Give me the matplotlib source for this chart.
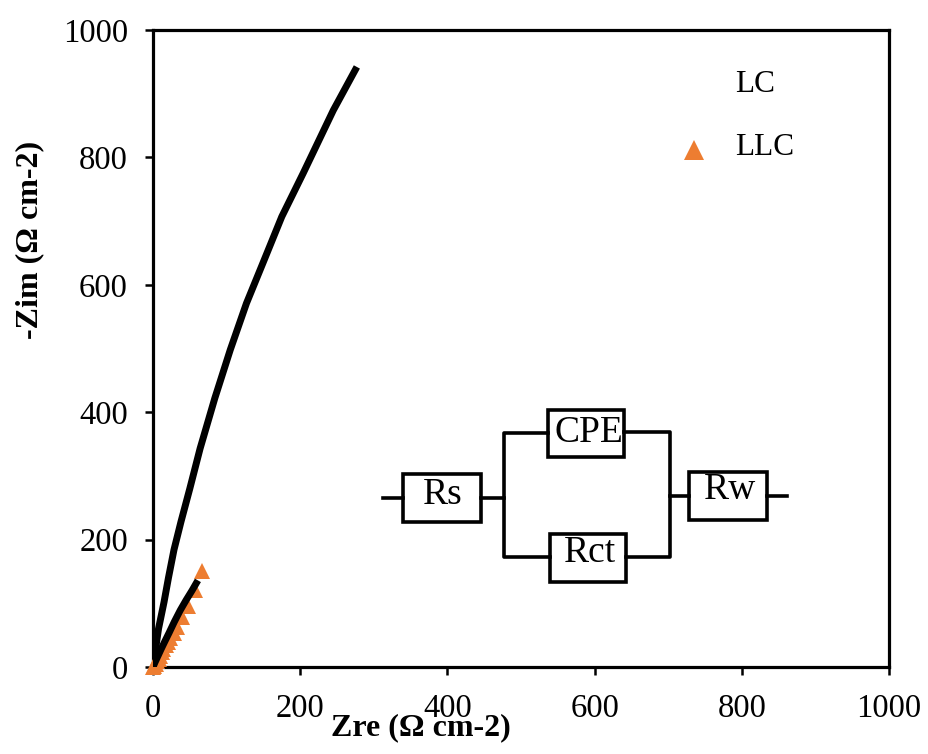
import matplotlib
matplotlib.use('Agg')
import matplotlib.pyplot as plt
from matplotlib.patches import Rectangle

plt.rcParams['font.family'] = ['Liberation Serif', 'DejaVu Serif']

W, H = 929, 754

# fitted curves
lc_fit_x = [0, 2.5, 7.5, 15, 21, 28.5, 38, 50, 64, 84, 105, 127, 150, 175, 204, 245, 277]
lc_fit_y = [0, 20, 60, 102, 140, 184, 228, 280, 343, 422, 498, 571, 636, 707, 775, 874, 942]
llc_fit_x = [0, 3, 7, 11, 16, 22, 29, 37, 45, 53, 61]
llc_fit_y = [0, 8, 18, 28, 40, 54, 71, 89, 105, 120, 136]

# LLC measured points
llc_x = [0, 2, 4, 6, 8, 10, 12, 14, 17, 20, 23, 28, 33, 39, 48, 57, 67]
llc_y = [0, 2, 5, 9, 13, 18, 23, 28, 34, 40, 46, 53, 63, 78, 96, 121, 150]

ticks = [0, 200, 400, 600, 800, 1000]

# circuit, in pixels of the picture
boxes = [
    ('Rs', 403, 474, 481, 522, 443, 495),
    ('CPE', 548, 410, 624, 457, 589, 433),
    ('Rct', 550, 534, 626, 582, 590, 553),
    ('Rw', 689, 472, 767, 520, 730, 490),
]
wires = [
    ([383, 403], [498, 498]),
    ([481, 504], [498, 498]),
    ([548, 504, 504, 550], [433, 433, 557, 557]),
    ([624, 670, 670, 626], [432, 432, 557, 557]),
    ([670, 689], [496, 496]),
    ([767, 787], [496, 496]),
]

fig = plt.figure(figsize=(W / 100, H / 100), dpi=100)
ax = fig.add_axes([153 / W, 1 - 667 / H, (889 - 153) / W, (667 - 30) / H])

ax.plot(llc_x, llc_y, '^', color='#ed7d31', ms=11, mew=0, clip_on=False, zorder=3)
ax.plot(lc_fit_x, lc_fit_y, color='black', lw=5, solid_capstyle='butt', zorder=4)
ax.plot(llc_fit_x, llc_fit_y, color='black', lw=5, solid_capstyle='butt', zorder=4)

ax.set_xlim(0, 1000)
ax.set_ylim(0, 1000)
ax.set_xticks(ticks)
ax.set_yticks(ticks)
ax.tick_params(labelsize=23.5, width=1.8, length=6, direction='out')
ax.tick_params(axis='x', pad=13)
ax.tick_params(axis='y', pad=12)
for s in ax.spines.values():
    s.set_linewidth(2.3)

# legend
ax.plot([735], [811], '^', color='#ed7d31', ms=14, mew=0)
ax.text(791, 915, 'LC', fontsize=22.5, va='center', ha='left')
ax.text(791, 816, 'LLC', fontsize=22.5, va='center', ha='left')

# axis labels sit at their own spots
fig.text(421 / W, 1 - 728 / H, 'Zre (Ω cm-2)', fontsize=23, fontweight='bold',
         ha='center', va='center')
fig.text(30 / W, 1 - 240 / H, '-Zim (Ω cm-2)', fontsize=23, fontweight='bold',
         rotation=90, ha='center', va='center')

# equivalent circuit
for xs, ys in wires:
    fig.add_artist(plt.Line2D([x / W for x in xs], [1 - y / H for y in ys],
                              color='black', lw=2.6, transform=fig.transFigure))
for name, x0, y0, x1, y1, tx, ty in boxes:
    fig.add_artist(Rectangle((x0 / W, 1 - y1 / H), (x1 - x0) / W, (y1 - y0) / H,
                             fc='white', ec='black', lw=2.6, transform=fig.transFigure))
    fig.text(tx / W, 1 - ty / H, name, fontsize=27, ha='center', va='center')

fig.savefig('out.png', dpi=100)
